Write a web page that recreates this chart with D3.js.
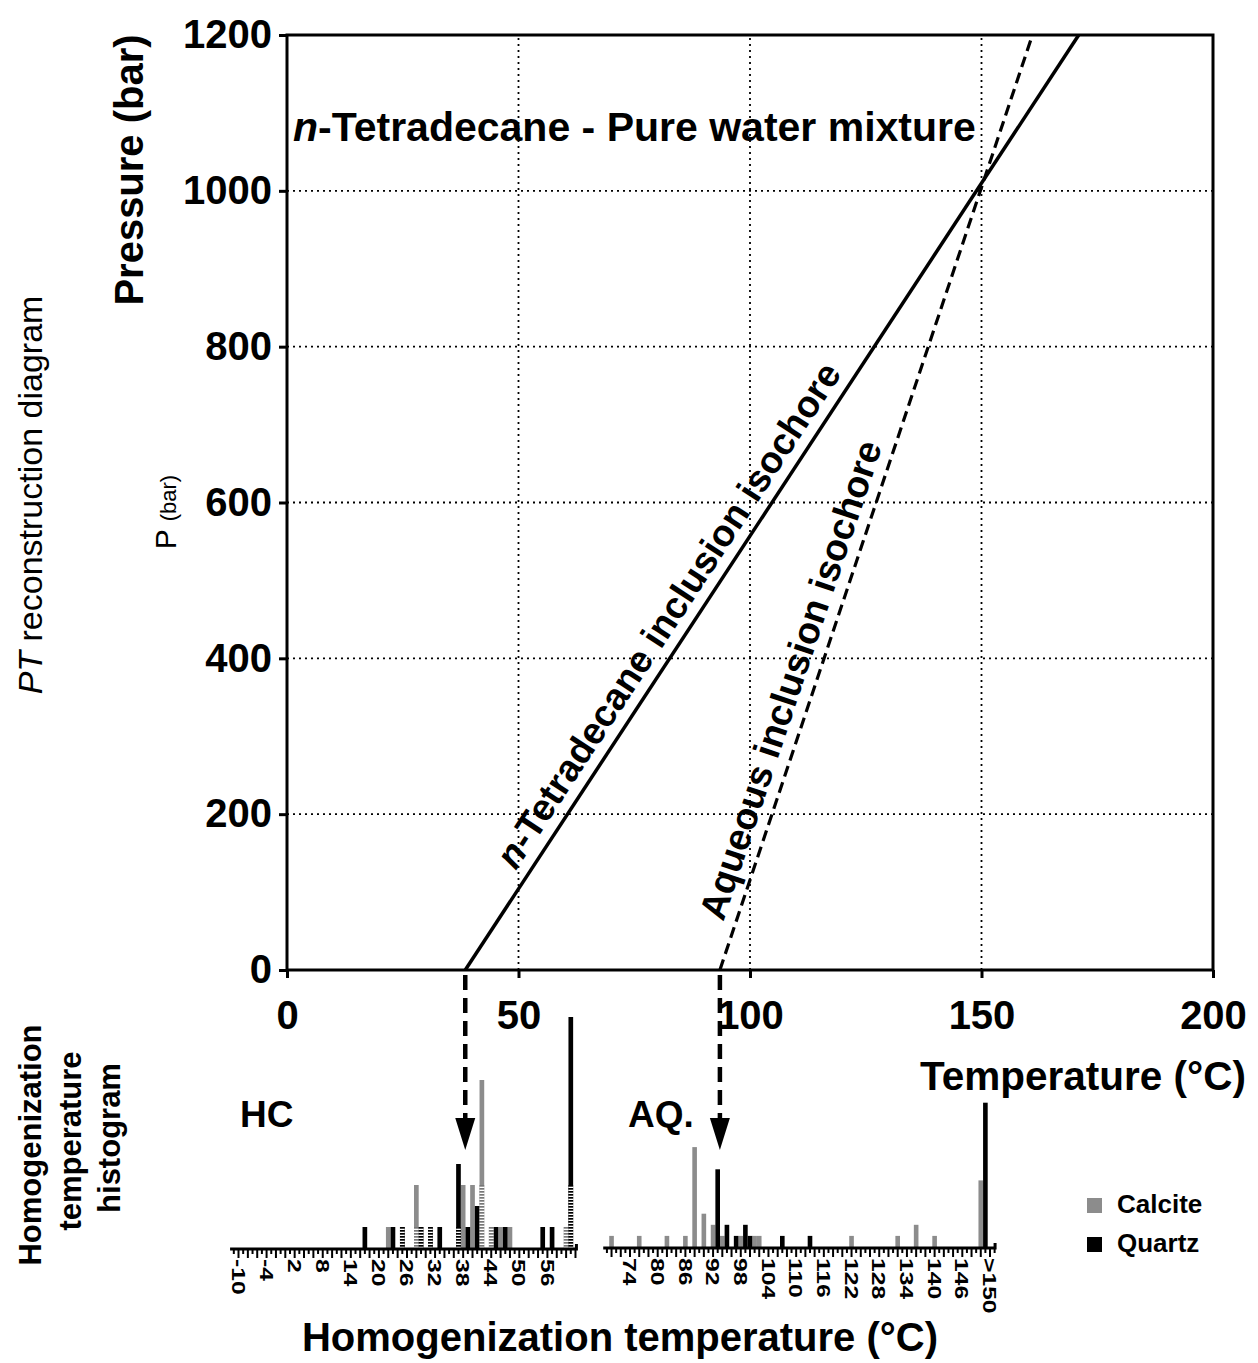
<!DOCTYPE html>
<html><head><meta charset="utf-8">
<script src="https://cdn.jsdelivr.net/npm/d3@7"></script>
<style>body{margin:0;background:#fff}svg{display:block}</style>
</head><body><svg id="c" width="1258" height="1363"></svg>
<script>
// ---------- DATA ----------
const pTicks = [0, 200, 400, 600, 800, 1000, 1200];
const tTicks = [0, 50, 100, 150, 200];
const gridP = [200, 400, 600, 800, 1000];
const gridT = [50, 100, 150];
// isochores (temperature °C, pressure bar)
const hcIsoT = [38.5, 171];
const hcIsoP = [0, 1200];
const aqIsoT = [93.5, 161];
const aqIsoP = [0, 1200];
// HC homogenization histogram (1 °C bins): calcite / quartz counts, hatched part
const hcCalT = [22, 28, 38, 40, 42, 44, 46, 48, 60];
const hcCalN = [1, 3, 3, 3, 8, 1, 1, 1, 1];
const hcCalH = [0, 1, 0, 0, 3, 1, 0, 0, 1];
const hcQtzT = [17, 23, 25, 29, 31, 33, 37, 39, 41, 45, 47, 55, 57, 61];
const hcQtzN = [1, 1, 1, 1, 1, 1, 4, 1, 2, 1, 1, 1, 1, 11];
const hcQtzH = [0, 0, 1, 1, 1, 0, 1, 0, 0, 0, 0, 0, 0, 3];
const hcLabelPos = [-10, -4, 2, 8, 14, 20, 26, 32, 38, 44, 50, 56];
const hcLabelTxt = ["-10", "-4", "2", "8", "14", "20", "26", "32", "38", "44", "50", "56"];
// AQ homogenization histogram
const aqCalT = [70, 76, 82, 86, 88, 90, 92, 94, 98, 101, 102, 122, 132, 136, 140, 150];
const aqCalN = [1, 1, 1, 1, 9, 3, 2, 1, 1, 1, 1, 1, 1, 2, 1, 6];
const aqQtzT = [93, 95, 97, 99, 100, 107, 113, 151];
const aqQtzN = [7, 2, 1, 2, 1, 1, 1, 13];
const aqLabelPos = [74, 80, 86, 92, 98, 104, 110, 116, 122, 128, 134, 140, 146, 152];
const aqLabelTxt = ["74", "80", "86", "92", "98", "104", "110", "116", "122", "128", "134", "140", "146", ">150"];

// ---------- DRAW ----------
const FONT = '"Liberation Sans", Arial, Helvetica, sans-serif';
const GRAY = "#8c8c8c";
const svg = d3.select("#c").attr("font-family", FONT);
const defs = svg.append("defs");
function hatch(id, color) {
  const p = defs.append("pattern").attr("id", id).attr("patternUnits", "userSpaceOnUse")
    .attr("width", 10).attr("height", 3);
  p.append("rect").attr("width", 10).attr("height", 3).attr("fill", "#fff");
  p.append("rect").attr("width", 10).attr("height", 1.7).attr("fill", color);
}
hatch("hQ", "#000");
hatch("hC", "#777");

const x = d3.scaleLinear().domain([0, 200]).range([287, 1213]);
const y = d3.scaleLinear().domain([0, 1200]).range([970, 35]);

// grid
svg.append("g").selectAll("line").data(gridP).join("line")
  .attr("x1", x(0)).attr("x2", x(200)).attr("y1", d => y(d)).attr("y2", d => y(d))
  .attr("stroke", "#000").attr("stroke-width", 1.8).attr("stroke-dasharray", "2,4");
svg.append("g").selectAll("line").data(gridT).join("line")
  .attr("y1", y(0)).attr("y2", y(1200)).attr("x1", d => x(d)).attr("x2", d => x(d))
  .attr("stroke", "#000").attr("stroke-width", 1.8).attr("stroke-dasharray", "2,4");

// frame
svg.append("rect").attr("x", x(0)).attr("y", y(1200))
  .attr("width", x(200) - x(0)).attr("height", y(0) - y(1200))
  .attr("fill", "none").attr("stroke", "#000").attr("stroke-width", 3);

// axes
const ga = svg.append("g").attr("transform", `translate(${x(0)},0)`)
  .call(d3.axisLeft(y).tickValues(pTicks).tickFormat(d3.format("d")).tickSize(8).tickSizeOuter(0).tickPadding(7));
ga.select(".domain").remove();
ga.selectAll("line").attr("stroke-width", 3);
ga.selectAll("text").attr("font-size", 40).attr("font-weight", "bold").attr("font-family", FONT);

const gb = svg.append("g").attr("transform", `translate(0,${y(0)})`)
  .call(d3.axisBottom(x).tickValues(tTicks).tickFormat(d3.format("d")).tickSize(8).tickSizeOuter(0).tickPadding(23));
gb.select(".domain").remove();
gb.selectAll("line").attr("stroke-width", 3);
gb.selectAll("text").attr("font-size", 40).attr("font-weight", "bold").attr("font-family", FONT);

// isochores
const line = d3.line().x(d => x(d[0])).y(d => y(d[1]));
const hcIso = hcIsoT.map((t, i) => [t, hcIsoP[i]]);
const aqIso = aqIsoT.map((t, i) => [t, aqIsoP[i]]);
svg.append("path").attr("d", line(hcIso)).attr("fill", "none").attr("stroke", "#000").attr("stroke-width", 3.5);
svg.append("path").attr("d", line(aqIso)).attr("fill", "none").attr("stroke", "#000").attr("stroke-width", 3.2)
  .attr("stroke-dasharray", "11,6");

function lineLabel(iso, p, off, parts) {
  const x1 = x(iso[0][0]), y1 = y(iso[0][1]), x2 = x(iso[1][0]), y2 = y(iso[1][1]);
  const f = (p - iso[0][1]) / (iso[1][1] - iso[0][1]);
  const px = x1 + f * (x2 - x1), py = y1 + f * (y2 - y1);
  const ang = Math.atan2(y2 - y1, x2 - x1);
  const nx = Math.sin(ang), ny = -Math.cos(ang);
  const t = svg.append("text")
    .attr("transform", `translate(${px + nx * off},${py + ny * off}) rotate(${ang * 180 / Math.PI})`)
    .attr("text-anchor", "middle").attr("font-size", 37.5).attr("font-weight", "bold");
  parts.forEach(([s, it]) => t.append("tspan").text(s).attr("font-style", it ? "italic" : "normal"));
}
lineLabel(hcIso, 438, 12, [["n", true], ["-Tetradecane inclusion isochore", false]]);
lineLabel(aqIso, 362, 12, [["Aqueous inclusion isochore", false]]);

// title inside
const tt = svg.append("text").attr("x", 293).attr("y", 141).attr("font-size", 41).attr("font-weight", "bold");
tt.append("tspan").attr("font-style", "italic").text("n");
tt.append("tspan").text("-Tetradecane - Pure water mixture");

// axis titles
svg.append("text").attr("transform", "translate(143,170) rotate(-90)").attr("text-anchor", "middle")
  .attr("font-size", 40).attr("font-weight", "bold").text("Pressure (bar)");
svg.append("text").attr("x", 1246).attr("y", 1090).attr("text-anchor", "end")
  .attr("font-size", 40.5).attr("font-weight", "bold").text("Temperature (°C)");

// left labels
const pt = svg.append("text").attr("transform", "translate(42,495) rotate(-90)").attr("text-anchor", "middle")
  .attr("font-size", 34);
pt.append("tspan").attr("font-style", "italic").text("PT");
pt.append("tspan").text(" reconstruction diagram");
const pb = svg.append("text").attr("transform", "translate(176,512) rotate(-90)").attr("text-anchor", "middle");
pb.append("tspan").attr("font-size", 30).text("P ");
pb.append("tspan").attr("font-size", 22).text("(bar)");
[["Homogenization", 41, 1145], ["temperature", 81, 1141], ["histogram", 120, 1138]].forEach(([s, bx, cy]) => {
  svg.append("text").attr("transform", `translate(${bx},${cy}) rotate(-90)`).attr("text-anchor", "middle")
    .attr("font-size", 31).attr("font-weight", "bold").text(s);
});

// ---------- histograms ----------
function histogram(xs, ys, calT, calN, calH, qtzT, qtzN, qtzH, lo, hi, labPos, labTxt, base) {
  const bw = xs(1) - xs(0);
  const g = svg.append("g");
  const bars = [];
  calT.forEach((t, i) => bars.push({ t, n: calN[i], h: calH ? calH[i] : 0, c: GRAY, p: "url(#hC)" }));
  qtzT.forEach((t, i) => bars.push({ t, n: qtzN[i], h: qtzH ? qtzH[i] : 0, c: "#000", p: "url(#hQ)" }));
  g.selectAll("rect.b").data(bars).join("rect").attr("class", "b")
    .attr("x", d => xs(d.t) - bw / 2).attr("width", bw)
    .attr("y", d => ys(d.n)).attr("height", d => ys(0) - ys(d.n)).attr("fill", d => d.c);
  g.selectAll("rect.h").data(bars.filter(d => d.h > 0)).join("rect").attr("class", "h")
    .attr("x", d => xs(d.t) - bw / 2).attr("width", bw)
    .attr("y", d => ys(d.h)).attr("height", d => ys(0) - ys(d.h)).attr("fill", d => d.p);
  // axis line
  g.append("path").attr("d", `M${xs(lo)},${base} H${xs(hi)} V${base - 5}`).attr("fill", "none")
    .attr("stroke", "#000").attr("stroke-width", 3);
  const ticks = d3.range(Math.ceil(lo), Math.floor(hi) + 1);
  g.selectAll("line.t").data(ticks).join("line").attr("class", "t")
    .attr("x1", d => xs(d)).attr("x2", d => xs(d)).attr("y1", base)
    .attr("y2", d => base + (d % 2 === 0 ? 9 : 5)).attr("stroke", "#000").attr("stroke-width", 2);
  g.selectAll("text").data(labPos).join("text")
    .attr("transform", d => `translate(${xs(d)},${base + 10}) rotate(90) scale(1.3,1)`)
    .attr("dy", "0.36em").attr("font-size", 19).attr("font-weight", "bold")
    .text((d, i) => labTxt[i]);
}
const xh = d3.scaleLinear().domain([-10, 56]).range([238.5, 547.4]);
const yh = d3.scaleLinear().domain([0, 11]).range([1248, 1017]);
histogram(xh, yh, hcCalT, hcCalN, hcCalH, hcQtzT, hcQtzN, hcQtzH, -11.8, 62.2, hcLabelPos, hcLabelTxt, 1249);
const xa = d3.scaleLinear().domain([74, 152]).range([630, 990]);
const ya = d3.scaleLinear().domain([0, 13]).range([1247, 1102.7]);
histogram(xa, ya, aqCalT, aqCalN, null, aqQtzT, aqQtzN, null, 68.2, 153.1, aqLabelPos, aqLabelTxt, 1248);

// arrows
[hcIsoT[0], aqIsoT[0]].forEach(t => {
  const ax = x(t);
  svg.append("line").attr("x1", ax).attr("x2", ax).attr("y1", 975).attr("y2", 1120)
    .attr("stroke", "#000").attr("stroke-width", 4.5).attr("stroke-dasharray", "15,8");
  svg.append("path").attr("d", `M${ax - 10},1118 L${ax + 10},1118 L${ax},1150 Z`).attr("fill", "#000");
});

svg.append("text").attr("x", 240).attr("y", 1127).attr("font-size", 37).attr("font-weight", "bold").text("HC");
svg.append("text").attr("x", 628).attr("y", 1127).attr("font-size", 37).attr("font-weight", "bold").text("AQ.");

// legend
const legend = [["Calcite", GRAY, 1213], ["Quartz", "#000", 1252]];
legend.forEach(([s, c, by]) => {
  svg.append("rect").attr("x", 1087).attr("y", by - 15).attr("width", 15).attr("height", 15).attr("fill", c);
  svg.append("text").attr("x", 1117).attr("y", by).attr("font-size", 26).attr("font-weight", "bold").text(s);
});

svg.append("text").attr("x", 620).attr("y", 1351).attr("text-anchor", "middle")
  .attr("font-size", 40).attr("font-weight", "bold").text("Homogenization temperature (°C)");
</script></body></html>
